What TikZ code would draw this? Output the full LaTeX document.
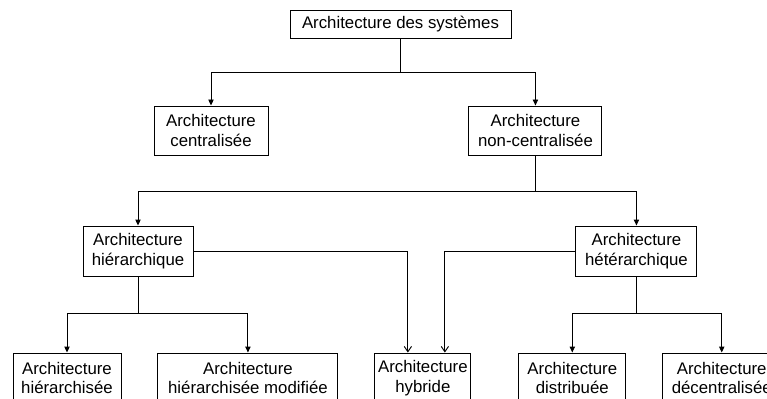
\documentclass[tikz,border=0pt]{standalone}
\usepackage{fontspec}
\setmainfont{Liberation Sans}
\usepackage{tikz}
\usetikzlibrary{positioning,arrows.meta}

\begin{document}
\begin{tikzpicture}[x=0.75pt,y=-0.75pt,
    box/.style={draw,line width=0.7pt,align=center,inner sep=0pt,minimum height=37.5pt,font=\fontsize{12.6}{14.8}\selectfont},
    link/.style={line width=0.7pt,-{Triangle[length=4.5pt,width=4pt]}},
    openlink/.style={line width=0.7pt,-{Straight Barb[length=4pt,width=5.5pt]}}]

    \clip (0,0) rectangle (767,399);

    \node[box,minimum width=165.75pt,minimum height=21pt] (sys) at (400.5,24) {Architecture des systèmes};

    \node[box,minimum width=85.5pt,minimum height=36.75pt] (cent) at (211,130.5) {Architecture\\centralisée};
    \node[box,minimum width=99.75pt,minimum height=36.75pt,right=150pt of cent] (ncent) {Architecture\\non-centralisée};

    \node[box,minimum width=82.5pt] (hier) at (138,251) {Architecture\\hiérarchique};
    \node[box,minimum width=90.75pt,right=286.5pt of hier] (heter) {Architecture\\hétérarchique};

    \node[box,minimum width=81pt] (hsee) at (67,378) {Architecture\\hiérarchisée};
    \node[box,minimum width=135pt,right=27pt of hsee] (hmod) {Architecture\\hiérarchisée modifiée};
    \node[box,minimum width=72pt,right=27pt of hmod] (hyb) {Architecture\\hybride};
    \node[box,minimum width=80.25pt,right=35.25pt of hyb] (dist) {Architecture\\distribuée};
    \node[box,minimum width=88.5pt,right=27pt of dist] (dec) {Architecture\\décentralisée};

    \draw[link] (sys.south) -- ++(0,34) -| (cent.north);
    \draw[link] (sys.south) -- ++(0,34) -| (ncent.north);
    \draw[link] (ncent.south) -- ++(0,36) -| (hier.north);
    \draw[link] (ncent.south) -- ++(0,36) -| (heter.north);
    \draw[link] (hier.south) -- ++(0,37) -| (hsee.north);
    \draw[link] (hier.south) -- ++(0,37) -| (hmod.north);
    \draw[link] (heter.south) -- ++(0,37) -| (dist.north);
    \draw[link] (heter.south) -- ++(0,37) -| (dec.north);

    \draw[openlink] (hier.east) -| ([xshift=-11.25pt]hyb.north);
    \draw[openlink] (heter.west) -| ([xshift=16.5pt]hyb.north);

\end{tikzpicture}
\end{document}
